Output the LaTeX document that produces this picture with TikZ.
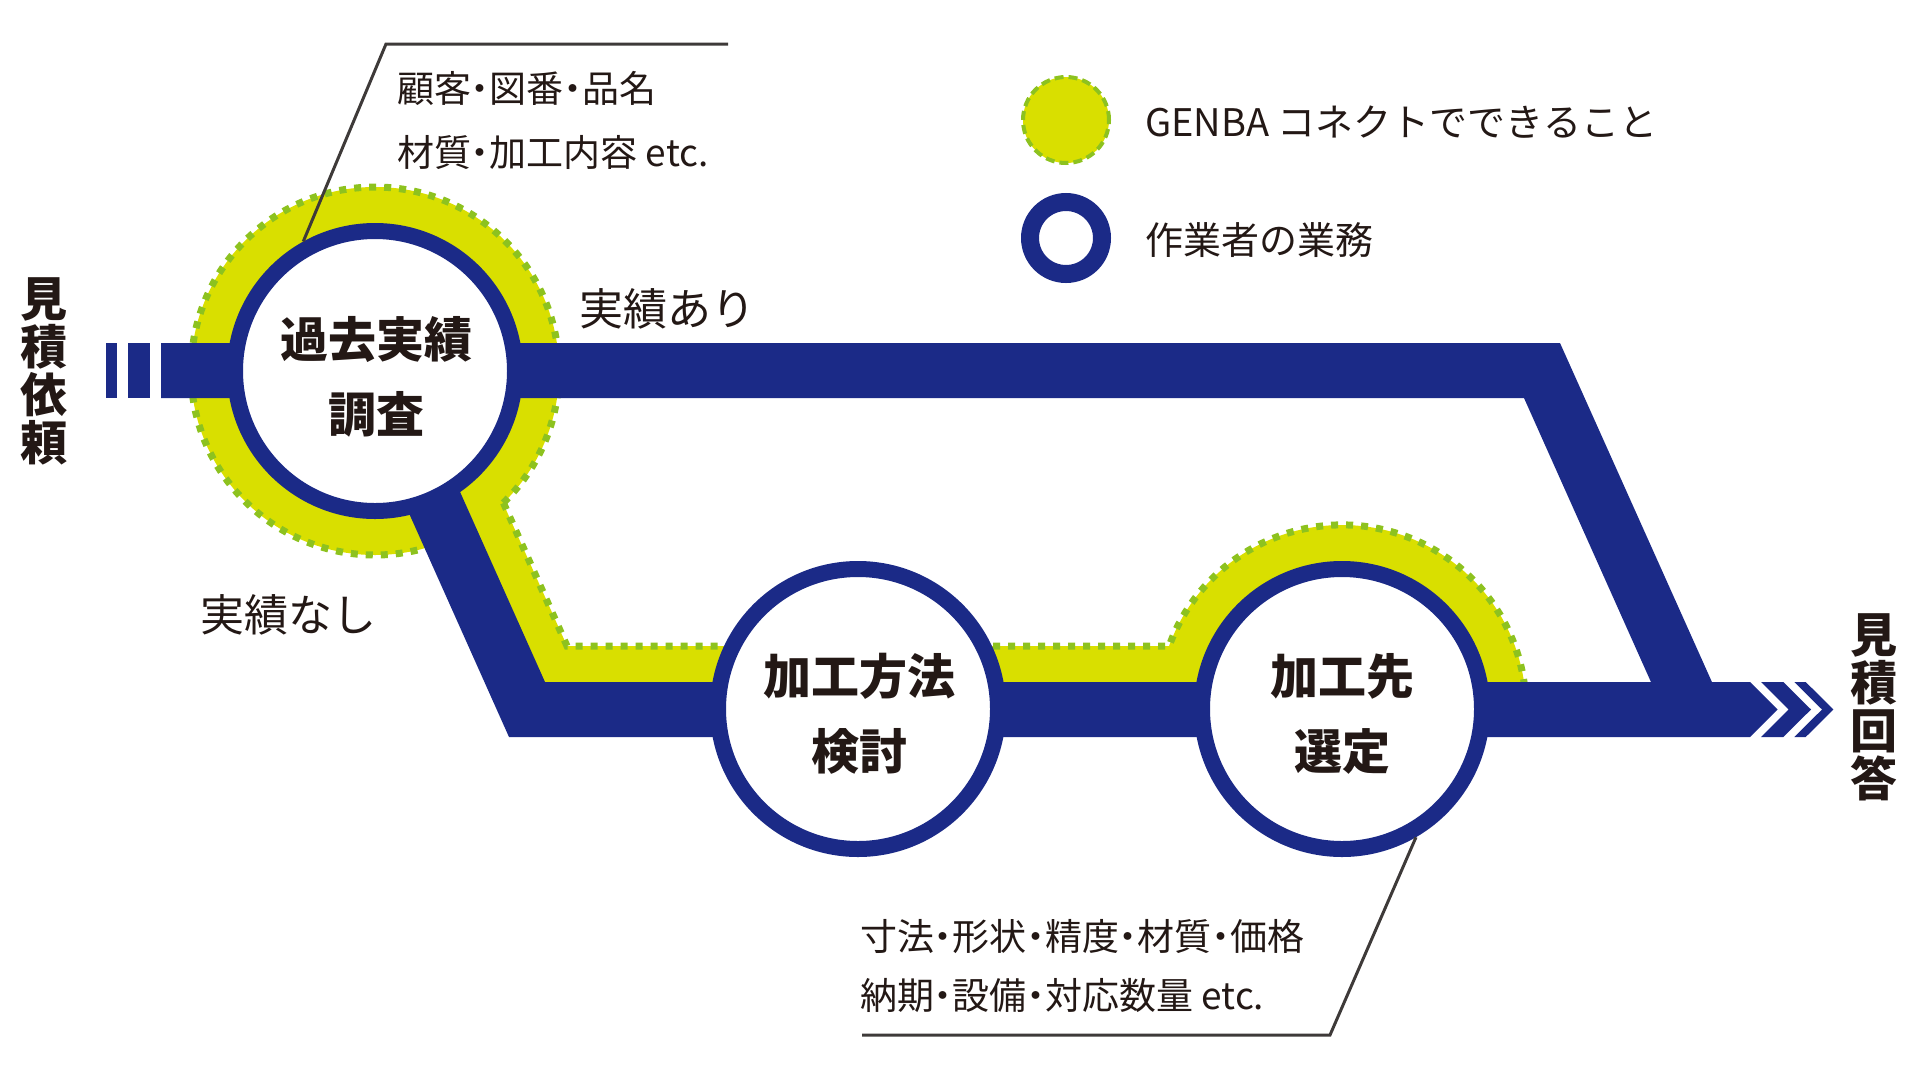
\documentclass[tikz,border=0pt]{standalone}
\usepackage{fontspec}
\setmainfont{Noto Sans CJK JP}
\newfontfamily\jp{Noto Sans CJK JP}
\newfontfamily\jpp{Noto Sans CJK JP}[RawFeature=+palt]
\definecolor{navy}{HTML}{1B2A87}
\definecolor{halogreen}{HTML}{D9DF00}
\definecolor{dotgreen}{HTML}{8DC21F}
\definecolor{ink}{HTML}{231815}
\definecolor{calloutgray}{HTML}{3E3A39}
\tikzset{
  halo/.style={fill=halogreen},
  dotline/.style={draw=dotgreen, line width=7pt, dash pattern=on 7pt off 8pt},
  legenddash/.style={draw=dotgreen, line width=4pt, dash pattern=on 9pt off 5pt},
  band/.style={fill=navy},
  station/.style={circle, draw=navy, line width=16pt, fill=white, minimum size=280pt, inner sep=0pt},
  stationlabel/.style={align=center, text=ink, font=\jp\bfseries\fontsize{48}{75}\selectfont, inner sep=0pt},
  sidelabel/.style={align=center, text=ink, font=\jp\bfseries\fontsize{47}{48}\selectfont, inner sep=0pt},
  routelabel/.style={text=ink, font=\jp\fontsize{44}{44}\selectfont, inner sep=0pt},
  notetext/.style={text=ink, align=left, font=\jpp\fontsize{37}{64}\selectfont, inner sep=0pt},
  legendtext/.style={text=ink, font=\jp\fontsize{38}{38}\selectfont, inner sep=0pt},
  callout/.style={draw=calloutgray, line width=3pt}
}
\begin{document}
\begin{tikzpicture}[x=1pt, y=-1pt]
\useasboundingbox (0,0) rectangle (1920,1080);
\coordinate (p1) at (375,371);
\coordinate (p2) at (858,709);
\coordinate (p3) at (1342,709);

% green halos
\fill[halo] (p1) circle[radius=184pt];
\fill[halo] (400,371) -- (444,371) -- (567,646) -- (1342,646) -- (1342,720) -- (520,720) -- cycle;
\begin{scope}
  \clip (1100,480) rectangle (1600,700);
  \fill[halo] (p3) circle[radius=184pt];
\end{scope}

% dotted outlines
\draw[dotline] (p1) ++(-45.8:184pt) arc[start angle=-45.8, end angle=294, radius=184pt];
\draw[dotline] (503.5,503) -- (567,646) -- (858,646);
\draw[dotline] (858,646) -- (1169.1,646) arc[start angle=160, end angle=5, radius=184pt];

% blue routes
\fill[band] (106,343) rectangle (117,398);
\fill[band] (128,343) rectangle (150,398);
\fill[band] (161,343) -- (1560,343) -- (1720,700) -- (1659,700) -- (1524,398) -- (161,398) -- cycle;
\fill[band] (358.4,400) -- (509,737) -- (1750,737) -- (1777.7,709.5) -- (1750,682) -- (545,682) -- (419,400) -- cycle;
\fill[band] (1761,682) -- (1783.3,682) -- (1811,709.5) -- (1783.3,737) -- (1761,737) -- (1788.7,709.5) -- cycle;
\fill[band] (1794.3,682) -- (1805.7,682) -- (1833.4,709.5) -- (1805.7,737) -- (1794.3,737) -- (1822,709.5) -- cycle;

% stations
\node[station] (c1) at (p1) {};
\node[station] (c2) at (p2) {};
\node[station] (c3) at (p3) {};
\node[stationlabel] (t1) at (376,377) {過去実績\\調査};
\node[stationlabel] (t2) at (859,714) {加工方法\\検討};
\node[stationlabel] (t3) at (1342,714) {加工先\\選定};

% side labels
\node[sidelabel] (start) at (44,371) {見\\積\\依\\頼};
\node[sidelabel] (goal) at (1874,707) {見\\積\\回\\答};

% route labels
\node[routelabel, anchor=west] (yes) at (579,309) {実績あり};
\node[routelabel, anchor=west] (no) at (200,615) {実績なし};

% callouts
\coordinate (k1) at (728,44);
\coordinate (k2) at (386,44);
\draw[callout] (k1) -- (k2) -- (c1.119.6);
\node[notetext, anchor=west] (n1) at (397,120) {顧客・図番・品名\\材質・加工内容 etc.};
\coordinate (k3) at (862,1035);
\coordinate (k4) at (1330,1035);
\draw[callout] (k3) -- (k4) -- (c3.300.5);
\node[notetext, anchor=west, font=\jpp\fontsize{37}{59}\selectfont] (n2) at (860,966) {寸法・形状・精度・材質・価格\\納期・設備・対応数量 etc.};

% legend
\node[circle, fill=halogreen, legenddash, minimum size=86pt, inner sep=0pt] (lg1) at (1066,120) {};
\node[circle, draw=navy, line width=18pt, fill=white, minimum size=72pt, inner sep=0pt] (lg2) at (1066,238) {};
\node[legendtext, anchor=west] (lt1) at (1145,122) {GENBA コネクトでできること};
\node[legendtext, anchor=west] (lt2) at (1145,240) {作業者の業務};
\end{tikzpicture}
\end{document}
